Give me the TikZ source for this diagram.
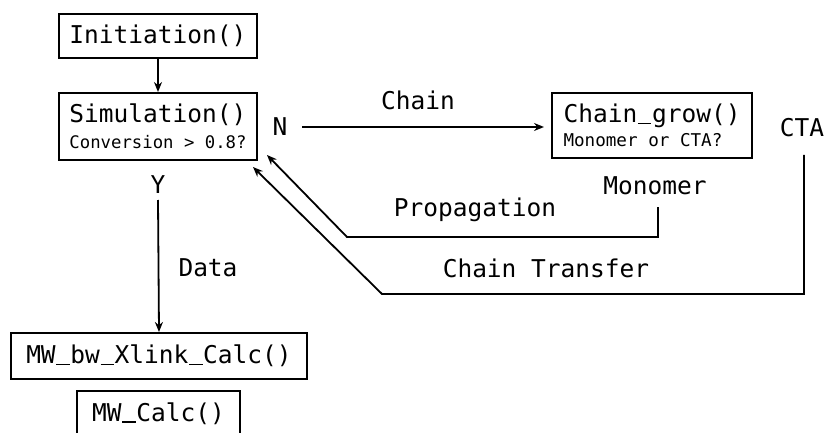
\documentclass[tikz,border=0pt]{standalone}
\usepackage{fontspec}
\newfontfamily\monofnt{DejaVu Sans Mono}
\usetikzlibrary{arrows.meta}
\tikzset{
  big/.style={font=\monofnt\fontsize{24.5}{26}\selectfont},
  fbox/.style={draw, line width=2pt, big, inner sep=0pt, align=left},
  lbl/.style={big, inner sep=0pt},
  conn/.style={line width=1.8pt, -{Stealth[length=10pt,width=8pt]}},
}
\newcommand{\smalltxt}{\monofnt\fontsize{17.3}{26}\selectfont}
\newcommand{\us}{\makebox[0.602em][c]{\rule[-1.5pt]{0.55em}{1.6pt}}}
\begin{document}
\begin{tikzpicture}[x=1pt,y=-1pt]
\clip (0,0) rectangle (825,433);
\fill[white] (0,0) rectangle (825,433);
% boxes
\node[fbox, minimum width=198pt, minimum height=44pt] (init) at (158,36) {Initiation()};
\node[fbox, minimum width=198pt, minimum height=67pt] (sim) at (158,126.5) {Simulation()\\{\smalltxt Conversion > 0.8?}};
\node[fbox, minimum width=200pt, minimum height=65pt, font=\monofnt\fontsize{24.5}{24}\selectfont] (grow) at (652,125.5) {Chain\us grow()\\{\monofnt\fontsize{17.6}{24}\selectfont Monomer or CTA?}};
\node[fbox, minimum width=296pt, minimum height=46pt] (mwx) at (159,356) {MW\us bw\us Xlink\us Calc()};
\node[fbox, minimum width=163pt, minimum height=45pt] (mwc) at (158.5,413.5) {MW\us Calc()};
% labels
\node[lbl] (N) at (280,127) {N};
\node[lbl] (Y) at (158,185) {Y};
\node[lbl] (chainlbl) at (418,100) {Chain};
\node[lbl] (data) at (208,268) {Data};
\node[lbl] (mono) at (655,186) {Monomer};
\node[lbl] (cta) at (802,128) {CTA};
\node[lbl] (prop) at (475,210) {Propagation};
\node[lbl] (ctr) at (546,268) {Chain Transfer};
% helper coordinates
\coordinate (nstart) at (302,127);
\coordinate (ystart) at (158,200);
\coordinate (pstart) at (658,207);
\coordinate (pc1) at (658,237);
\coordinate (pc2) at (347,237);
\coordinate (ptip) at (267,155);
\coordinate (cstart) at (804,155);
\coordinate (cc1) at (804,294);
\coordinate (cc2) at (382,294);
\coordinate (ctip) at (253,167);
% connectors
\draw[conn] (init.south) -- (sim.north);
\draw[conn, shorten >=7pt] (nstart) -- (grow.west |- nstart);
\draw[conn] (ystart) -- (mwx.north);
\draw[conn] (pstart) -- (pc1) -- (pc2) -- (ptip);
\draw[conn] (cstart) -- (cc1) -- (cc2) -- (ctip);
\end{tikzpicture}
\end{document}
